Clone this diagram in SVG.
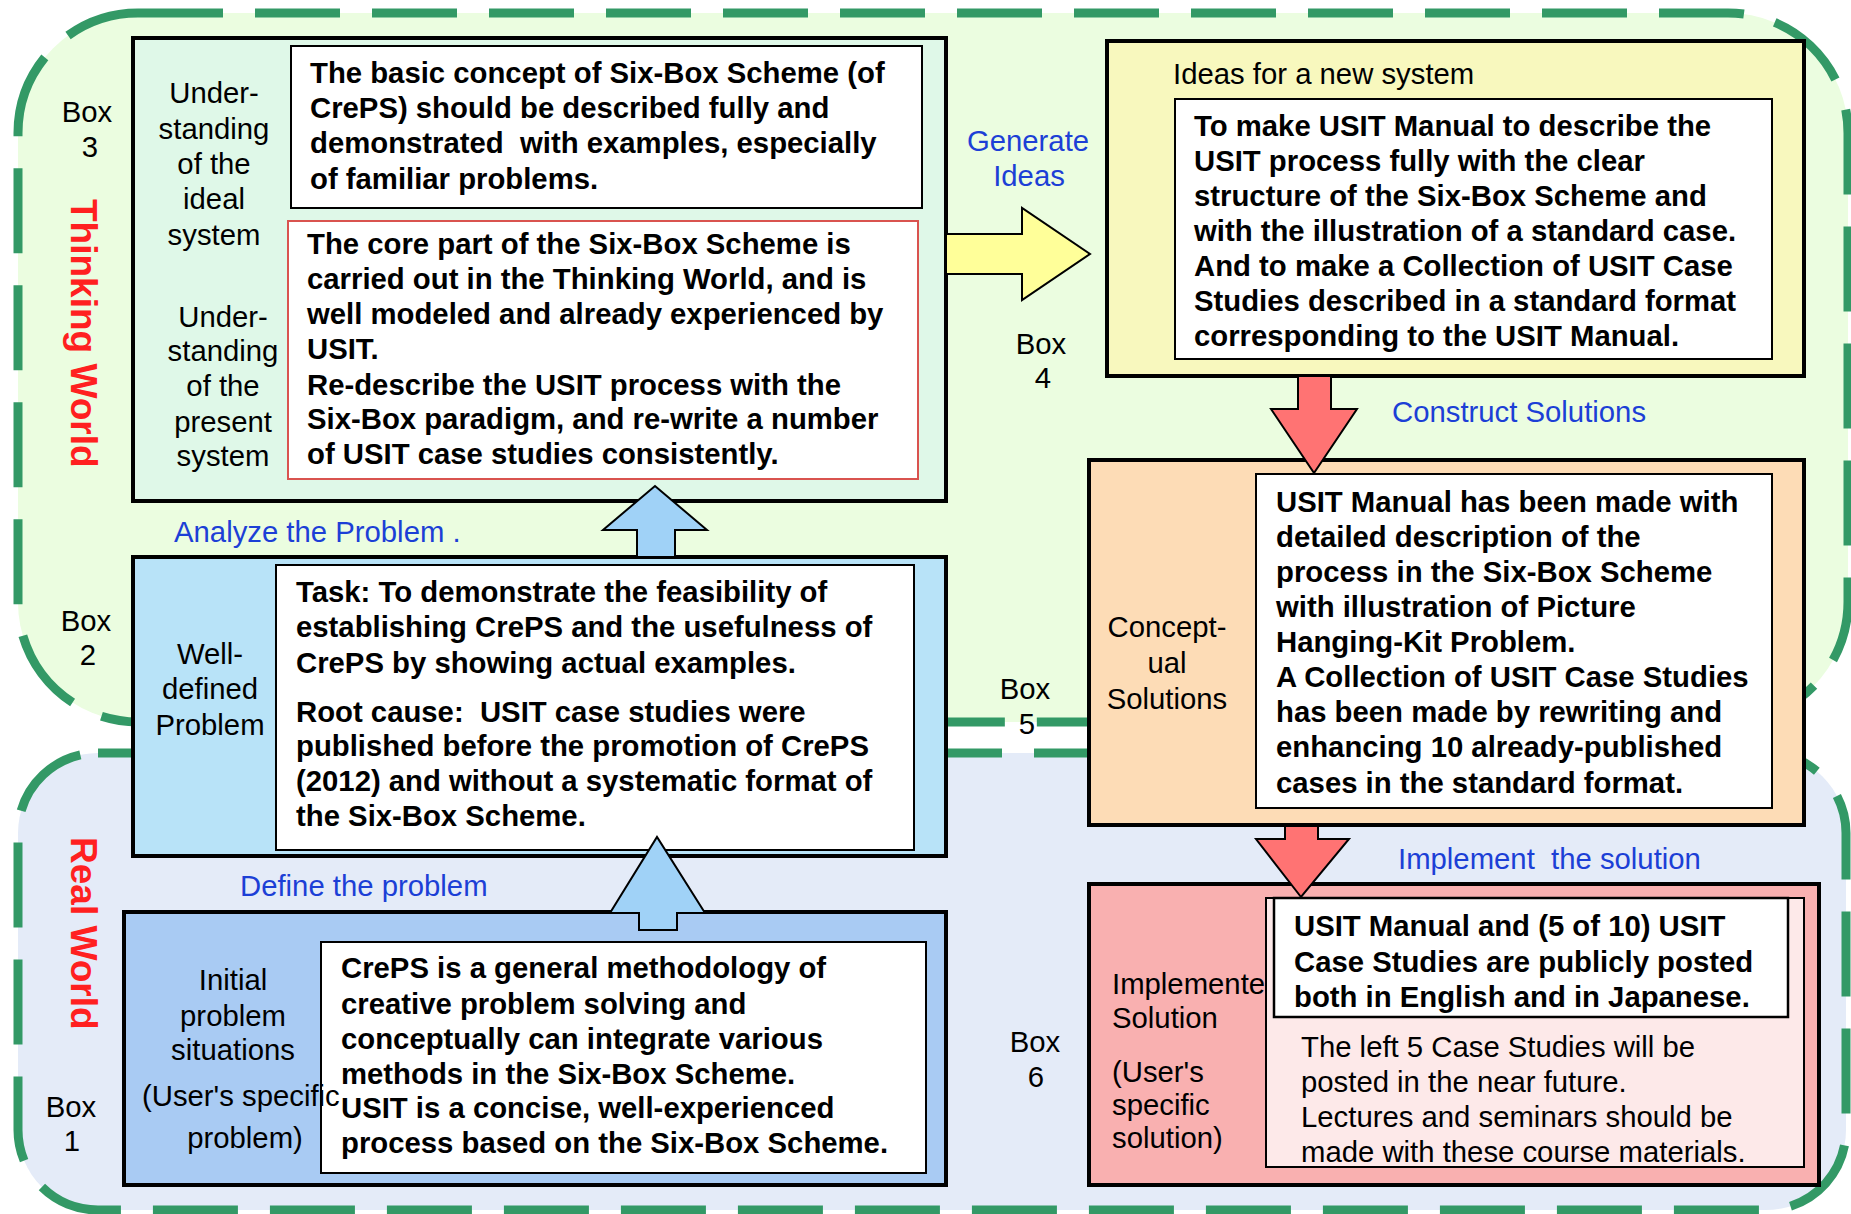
<svg xmlns="http://www.w3.org/2000/svg" width="1851" height="1214" viewBox="0 0 1851 1214">
  <style>
    text { font-family: "Liberation Sans", Arial, sans-serif; font-size: 29.3px; fill: #000; }
    .b { font-weight: bold; }
    .c { text-anchor: middle; }
    .blue { fill: #1c3fd6; }
    .world { fill: #ff2020; font-weight: bold; font-size: 37px; }
    .region { stroke: #339966; stroke-width: 9; stroke-dasharray: 85 32; }
    .box { stroke: #000; stroke-width: 4; }
    .inner { fill: #fff; stroke: #000; stroke-width: 2; }
    .arrow { stroke: #000; stroke-width: 2; stroke-linejoin: miter; }
  </style>

  <!-- Background regions: Thinking World (top) and Real World (bottom) -->
  <g id="thinking-world">
    <rect class="region" x="18" y="13" width="1830" height="709" rx="120" ry="120" fill="#ebfde0"/>
    <text class="world" transform="translate(71,199) rotate(90)">Thinking World</text>
  </g>
  <g id="real-world">
    <rect class="region" x="18" y="753" width="1828" height="457" rx="80" ry="80" fill="#e4ebf8"/>
    <text class="world" transform="translate(71,837) rotate(90)">Real World</text>
  </g>

  <!-- Box numbers -->
  <g id="box-numbers">
    <text class="c" x="87" y="122">Box</text><text class="c" x="90" y="157">3</text>
    <text class="c" x="86" y="631">Box</text><text class="c" x="88" y="665">2</text>
    <text class="c" x="71" y="1117">Box</text><text class="c" x="72" y="1151">1</text>
    <text class="c" x="1041" y="354">Box</text><text class="c" x="1043" y="388">4</text>
    <text class="c" x="1025" y="699">Box</text><text class="c" x="1027" y="734">5</text>
    <text class="c" x="1035" y="1052">Box</text><text class="c" x="1036" y="1087">6</text>
  </g>

  <!-- Box 3: understanding of the ideal / present system -->
  <g id="box3">
    <rect class="box" x="133" y="38" width="813" height="463" fill="#dff8e8"/>
    <rect class="inner" x="291" y="46" width="631" height="162"/>
    <rect x="288" y="221" width="630" height="258" fill="#fff" stroke="#d9534f" stroke-width="2"/>
    <text class="c" x="214" y="103">Under-</text>
    <text class="c" x="214" y="139">standing</text>
    <text class="c" x="214" y="174">of the</text>
    <text class="c" x="214" y="209">ideal</text>
    <text class="c" x="214" y="245">system</text>
    <text class="c" x="223" y="327">Under-</text>
    <text class="c" x="223" y="361">standing</text>
    <text class="c" x="223" y="396">of the</text>
    <text class="c" x="223" y="432">present</text>
    <text class="c" x="223" y="466">system</text>
    <text class="b" x="310" y="83">The basic concept of Six-Box Scheme (of</text>
    <text class="b" x="310" y="118">CrePS) should be described fully and</text>
    <text class="b" x="310" y="153" xml:space="preserve">demonstrated  with examples, especially</text>
    <text class="b" x="310" y="189">of familiar problems.</text>
    <text class="b" x="307" y="254">The core part of the Six-Box Scheme is</text>
    <text class="b" x="307" y="289">carried out in the Thinking World, and is</text>
    <text class="b" x="307" y="324">well modeled and already experienced by</text>
    <text class="b" x="307" y="359">USIT.</text>
    <text class="b" x="307" y="395">Re-describe the USIT process with the</text>
    <text class="b" x="307" y="429">Six-Box paradigm, and re-write a number</text>
    <text class="b" x="307" y="464">of USIT case studies consistently.</text>
  </g>

  <!-- Box 4: ideas for a new system -->
  <g id="box4">
    <rect class="box" x="1107" y="41" width="697" height="335" fill="#f8f8be"/>
    <text x="1173" y="84">Ideas for a new system</text>
    <rect class="inner" x="1175" y="99" width="597" height="260"/>
    <text class="b" x="1194" y="136">To make USIT Manual to describe the</text>
    <text class="b" x="1194" y="171">USIT process fully with the clear</text>
    <text class="b" x="1194" y="206">structure of the Six-Box Scheme and</text>
    <text class="b" x="1194" y="241">with the illustration of a standard case.</text>
    <text class="b" x="1194" y="276">And to make a Collection of USIT Case</text>
    <text class="b" x="1194" y="311">Studies described in a standard format</text>
    <text class="b" x="1194" y="346">corresponding to the USIT Manual.</text>
  </g>

  <!-- Box 5: conceptual solutions -->
  <g id="box5">
    <rect class="box" x="1089" y="460" width="715" height="365" fill="#fddcb6"/>
    <text class="c" x="1167" y="637">Concept-</text>
    <text class="c" x="1167" y="673">ual</text>
    <text class="c" x="1167" y="709">Solutions</text>
    <rect class="inner" x="1256" y="474" width="516" height="334"/>
    <text class="b" x="1276" y="512">USIT Manual has been made with</text>
    <text class="b" x="1276" y="547">detailed description of the</text>
    <text class="b" x="1276" y="582">process in the Six-Box Scheme</text>
    <text class="b" x="1276" y="617">with illustration of Picture</text>
    <text class="b" x="1276" y="652">Hanging-Kit Problem.</text>
    <text class="b" x="1276" y="687">A Collection of USIT Case Studies</text>
    <text class="b" x="1276" y="722">has been made by rewriting and</text>
    <text class="b" x="1276" y="757">enhancing 10 already-published</text>
    <text class="b" x="1276" y="793">cases in the standard format.</text>
  </g>

  <!-- Box 6: implemented solution -->
  <g id="box6">
    <rect class="box" x="1089" y="884" width="730" height="301" fill="#f9b0b0"/>
    <text x="1112" y="994">Implemented</text>
    <text x="1112" y="1028">Solution</text>
    <text x="1112" y="1082">(User's</text>
    <text x="1112" y="1115">specific</text>
    <text x="1112" y="1148">solution)</text>
    <rect x="1266" y="898" width="538" height="269" fill="#fde9e9" stroke="#000" stroke-width="2"/>
    <rect x="1274" y="898" width="514" height="119" fill="#fff" stroke="#000" stroke-width="2.5"/>
    <text class="b" x="1294" y="936">USIT Manual and (5 of 10) USIT</text>
    <text class="b" x="1294" y="972">Case Studies are publicly posted</text>
    <text class="b" x="1294" y="1007">both in English and in Japanese.</text>
    <text x="1301" y="1057">The left 5 Case Studies will be</text>
    <text x="1301" y="1092">posted in the near future.</text>
    <text x="1301" y="1127">Lectures and seminars should be</text>
    <text x="1301" y="1162">made with these course materials.</text>
  </g>

  <!-- Box 2: well-defined problem -->
  <g id="box2">
    <rect class="box" x="133" y="557" width="813" height="299" fill="#b8e3f8"/>
    <rect class="inner" x="276" y="565" width="638" height="285"/>
    <text class="c" x="210" y="664">Well-</text>
    <text class="c" x="210" y="699">defined</text>
    <text class="c" x="210" y="735">Problem</text>
    <text class="b" x="296" y="602">Task: To demonstrate the feasibility of</text>
    <text class="b" x="296" y="637">establishing CrePS and the usefulness of</text>
    <text class="b" x="296" y="673">CrePS by showing actual examples.</text>
    <text class="b" x="296" y="722" xml:space="preserve">Root cause:  USIT case studies were</text>
    <text class="b" x="296" y="756">published before the promotion of CrePS</text>
    <text class="b" x="296" y="791">(2012) and without a systematic format of</text>
    <text class="b" x="296" y="826">the Six-Box Scheme.</text>
  </g>

  <!-- Box 1: initial problem situations -->
  <g id="box1">
    <rect class="box" x="124" y="912" width="822" height="273" fill="#a9cbf3"/>
    <rect class="inner" x="321" y="942" width="605" height="231"/>
    <text class="c" x="233" y="990">Initial</text>
    <text class="c" x="233" y="1026">problem</text>
    <text class="c" x="233" y="1060">situations</text>
    <text x="142" y="1106">(User's specific</text>
    <text class="c" x="245" y="1148">problem)</text>
    <text class="b" x="341" y="978">CrePS is a general methodology of</text>
    <text class="b" x="341" y="1014">creative problem solving and</text>
    <text class="b" x="341" y="1049">conceptually can integrate various</text>
    <text class="b" x="341" y="1084">methods in the Six-Box Scheme.</text>
    <text class="b" x="341" y="1118">USIT is a concise, well-experienced</text>
    <text class="b" x="341" y="1153">process based on the Six-Box Scheme.</text>
  </g>

  <!-- Connectors: block arrows between the boxes, with their labels -->
  <g id="connectors">
    <polygon class="arrow" fill="#ffff99" points="946,234 1022,234 1022,208 1090,254 1022,300 1022,274 946,274"/>
    <polygon class="arrow" fill="#a0d2f7" points="637,557 637,530 603,530 655,486 707,530 675,530 675,557"/>
    <polygon class="arrow" fill="#a0d2f7" points="639,930 639,913 610,913 657,837 705,913 677,913 677,930"/>
    <polygon class="arrow" fill="#ff7373" points="1298,376 1331,376 1331,409 1357,409 1314,473 1271,409 1298,409"/>
    <polygon class="arrow" fill="#ff7373" points="1285,826 1318,826 1318,839 1349,839 1301,897 1256,839 1285,839"/>
    <text class="blue c" x="1028" y="151">Generate</text>
    <text class="blue c" x="1029" y="186">Ideas</text>
    <text class="blue" x="1392" y="422">Construct Solutions</text>
    <text class="blue" x="174" y="542">Analyze the Problem .</text>
    <text class="blue" x="240" y="896">Define the problem</text>
    <text class="blue" x="1398" y="869" xml:space="preserve">Implement  the solution</text>
  </g>
</svg>
